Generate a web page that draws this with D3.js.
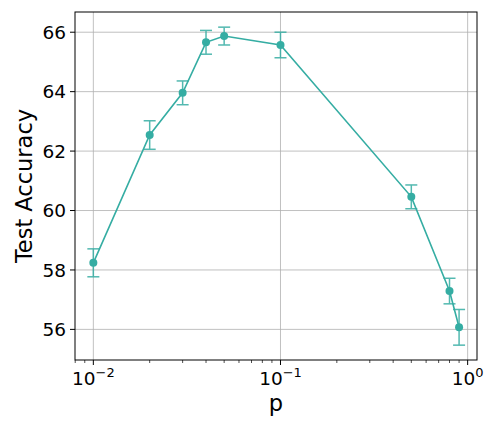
<!DOCTYPE html>
<html>
<head>
<meta charset="utf-8">
<script src="https://cdn.jsdelivr.net/npm/d3@7"></script>
<style>
  body { margin: 0; background: #fff; }
  text { font-family: "DejaVu Sans", sans-serif; fill: #000; }
</style>
</head>
<body>
<div id="chart"></div>
<script>
// data
var pValues = [0.01, 0.02, 0.03, 0.04, 0.05, 0.1, 0.5, 0.8, 0.9];
var accuracy = [58.24, 62.54, 63.96, 65.66, 65.87, 65.57, 60.46, 57.29, 56.07];
var accErr = [0.47, 0.48, 0.40, 0.40, 0.30, 0.43, 0.40, 0.43, 0.60];
var yTicks = [56, 58, 60, 62, 64, 66];
var xTicks = [0.01, 0.1, 1];
var xTickExp = ["\u22122", "\u22121", "0"];

var color = "#35ada3";

var width = 498, height = 432;
var margin = {top: 12, right: 21, bottom: 72, left: 75};
var w = width - margin.left - margin.right,
    h = height - margin.top - margin.bottom;

var svg = d3.select("#chart").append("svg")
    .attr("width", width)
    .attr("height", height);

var g = svg.append("g")
    .attr("transform", "translate(" + margin.left + "," + margin.top + ")");

var x = d3.scaleLog().domain([0.00798, 1.122]).range([0, w]);
var y = d3.scaleLinear().domain([54.97, 66.68]).range([h, 0]);

// grid
g.append("g").selectAll("line").data(xTicks).enter().append("line")
    .attr("x1", function(d) { return x(d); })
    .attr("x2", function(d) { return x(d); })
    .attr("y1", 0).attr("y2", h)
    .attr("stroke", "#b0b0b0").attr("stroke-width", 0.8);
g.append("g").selectAll("line").data(yTicks).enter().append("line")
    .attr("x1", 0).attr("x2", w)
    .attr("y1", function(d) { return y(d); })
    .attr("y2", function(d) { return y(d); })
    .attr("stroke", "#b0b0b0").attr("stroke-width", 0.8);

// minor ticks for the log axis
var minor = [];
[0.001, 0.01, 0.1, 1].forEach(function(b) {
  for (var k = 2; k <= 9; k++) {
    var v = b * k;
    if (v > x.domain()[0] && v < x.domain()[1]) minor.push(v);
  }
});
g.append("g").selectAll("line").data(minor).enter().append("line")
    .attr("x1", function(d) { return x(d); })
    .attr("x2", function(d) { return x(d); })
    .attr("y1", h).attr("y2", h + 3)
    .attr("stroke", "#000").attr("stroke-width", 0.7);

// major ticks x
var xt = g.append("g").selectAll("g").data(xTicks).enter().append("g")
    .attr("transform", function(d) { return "translate(" + x(d) + "," + h + ")"; });
xt.append("line").attr("y2", 5).attr("stroke", "#000").attr("stroke-width", 1);
var xl = xt.append("text")
    .attr("y", 25)
    .attr("text-anchor", "middle")
    .style("font-size", "18.5px");
xl.append("tspan").text("10");
xl.append("tspan")
    .attr("dy", -8)
    .style("font-size", "13px")
    .text(function(d, i) { return xTickExp[i]; });

// y ticks
var yt = g.append("g").selectAll("g").data(yTicks).enter().append("g")
    .attr("transform", function(d) { return "translate(0," + y(d) + ")"; });
yt.append("line").attr("x2", -5).attr("stroke", "#000").attr("stroke-width", 1);
yt.append("text")
    .attr("x", -9)
    .attr("dy", "0.36em")
    .attr("text-anchor", "end")
    .style("font-size", "18.5px")
    .text(function(d) { return d; });

// frame
g.append("rect")
    .attr("width", w).attr("height", h)
    .attr("fill", "none")
    .attr("stroke", "#000").attr("stroke-width", 1);

var data = pValues.map(function(p, i) { return {p: p, acc: accuracy[i], err: accErr[i]}; });

// error bars
var eb = g.append("g").attr("opacity", 0.85).selectAll("g").data(data).enter().append("g");
eb.append("line")
    .attr("x1", function(d) { return x(d.p); })
    .attr("x2", function(d) { return x(d.p); })
    .attr("y1", function(d) { return y(d.acc - d.err); })
    .attr("y2", function(d) { return y(d.acc + d.err); })
    .attr("stroke", color).attr("stroke-width", 1.5);
[-1, 1].forEach(function(s) {
  eb.append("line")
      .attr("x1", function(d) { return x(d.p) - 6; })
      .attr("x2", function(d) { return x(d.p) + 6; })
      .attr("y1", function(d) { return y(d.acc + s * d.err); })
      .attr("y2", function(d) { return y(d.acc + s * d.err); })
      .attr("stroke", color).attr("stroke-width", 1.5);
});

// line
var line = d3.line()
    .x(function(d) { return x(d.p); })
    .y(function(d) { return y(d.acc); });
g.append("path")
    .datum(data)
    .attr("d", line)
    .attr("fill", "none")
    .attr("stroke", color)
    .attr("stroke-width", 1.6);

g.append("g").selectAll("circle").data(data).enter().append("circle")
    .attr("cx", function(d) { return x(d.p); })
    .attr("cy", function(d) { return y(d.acc); })
    .attr("r", 4)
    .attr("fill", color);

// axis labels
svg.append("text")
    .attr("x", margin.left + w / 2)
    .attr("y", 411)
    .attr("text-anchor", "middle")
    .style("font-size", "22.5px")
    .text("p");

svg.append("text")
    .attr("transform", "translate(31.5," + (margin.top + h / 2) + ") rotate(-90)")
    .attr("text-anchor", "middle")
    .style("font-size", "22.5px")
    .text("Test Accuracy");
</script>
</body>
</html>
